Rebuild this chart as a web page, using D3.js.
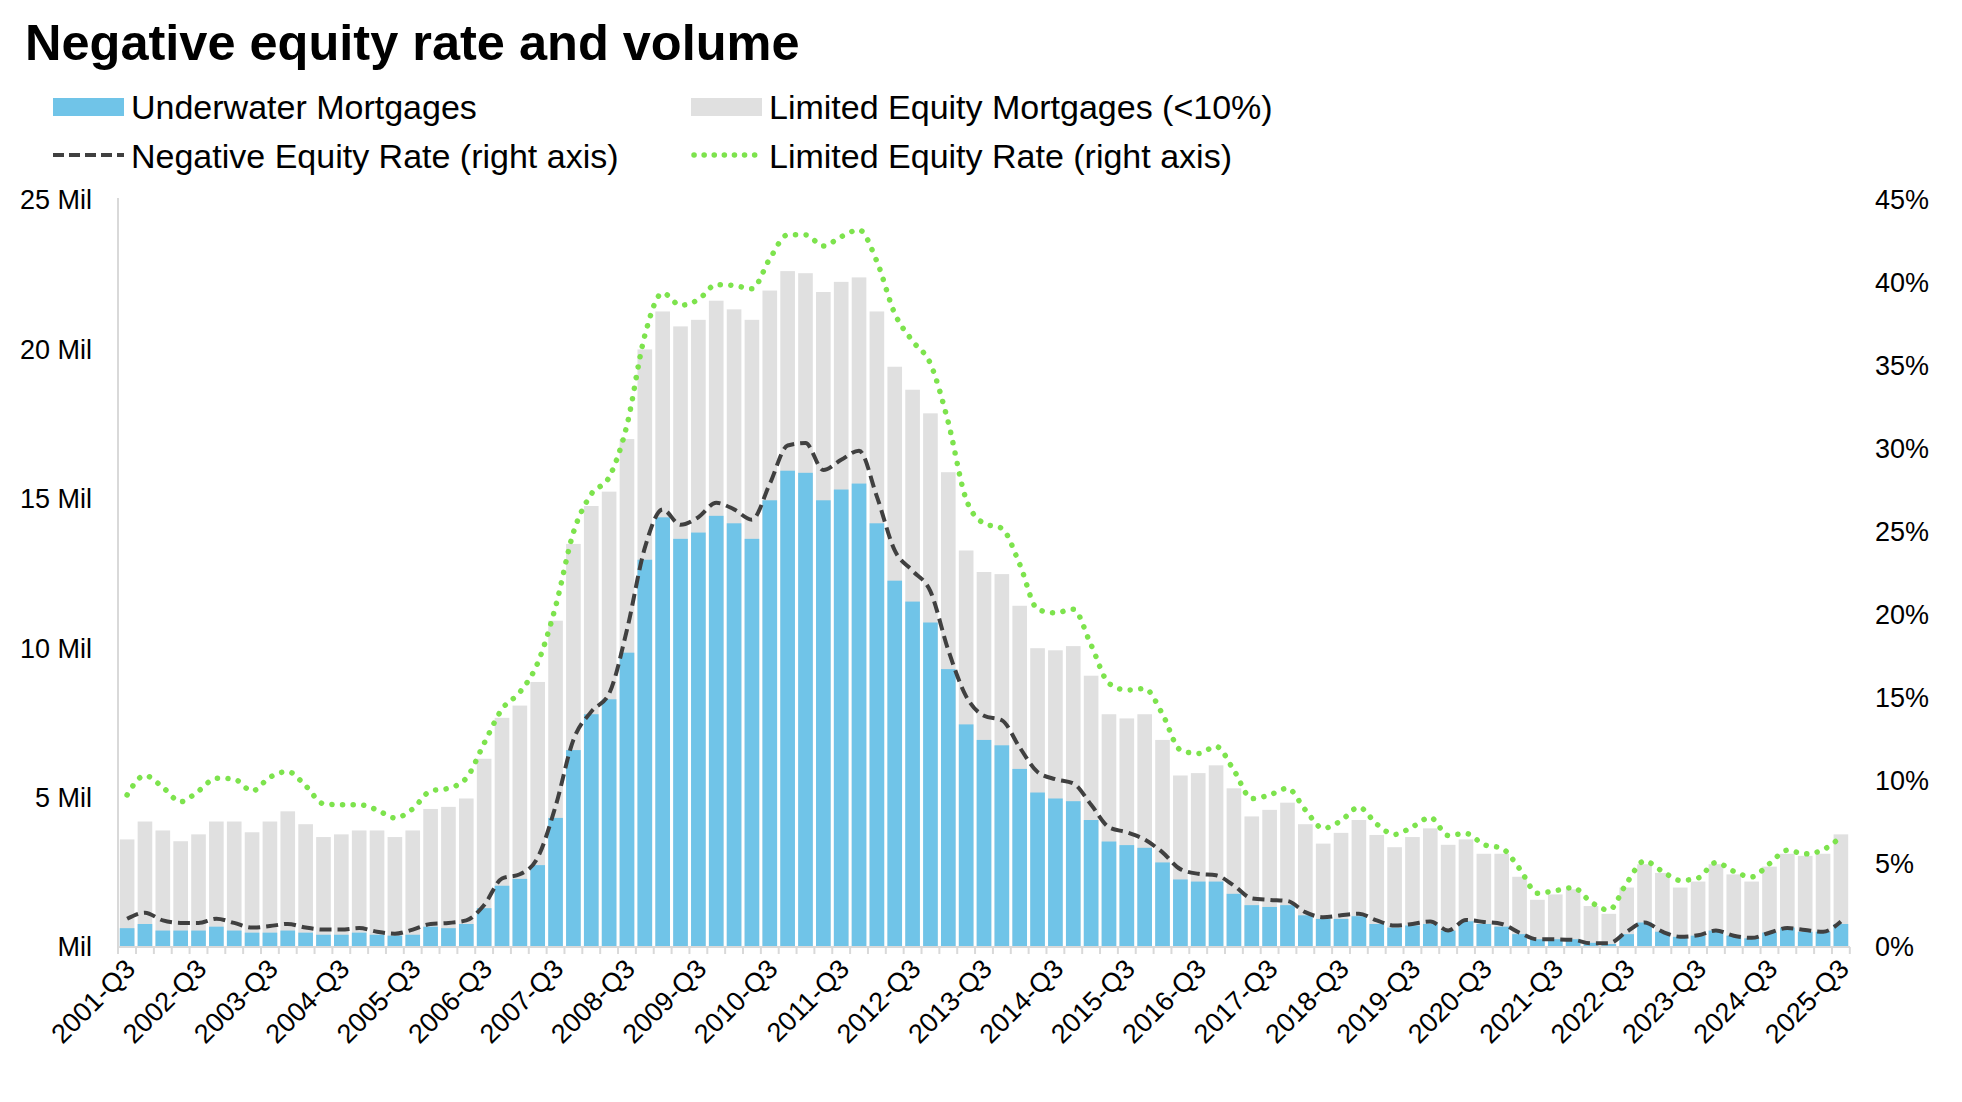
<!DOCTYPE html>
<html><head><meta charset="utf-8">
<script src="https://cdn.jsdelivr.net/npm/d3@7"></script>
<style>
body{margin:0;background:#fff}
text{font-family:"Liberation Sans",Arial,Helvetica,sans-serif;fill:#000}
</style>
</head><body>
<svg id="chart" width="1962" height="1102"></svg>
<script>
// ---- Data ----
const quarters = [];
for (let yr = 2001; yr <= 2025; yr++) {
  for (let q = 1; q <= 4; q++) {
    if ((yr === 2001 && q < 3) || (yr === 2025 && q > 3)) continue;
    quarters.push(yr + "-Q" + q);
  }
}
// Underwater mortgages (millions)
const underwater = [
  0.63,0.77,0.55,0.55,0.55,0.68,0.55,0.48,0.48,0.55,0.48,0.41,0.41,0.48,0.41,0.38,0.41,0.68,0.63,0.77,1.30,2.05,2.28,2.74,
  4.32,6.59,7.79,8.29,9.85,12.96,14.38,13.66,13.87,14.43,14.18,13.66,14.95,15.94,15.87,14.95,15.31,15.51,14.18,12.26,11.56,10.86,9.30,7.45,
  6.93,6.75,5.96,5.17,4.97,4.88,4.25,3.53,3.41,3.32,2.83,2.26,2.19,2.19,1.78,1.40,1.34,1.40,1.06,0.94,0.94,1.03,0.77,0.65,
  0.72,0.77,0.55,0.86,0.77,0.68,0.43,0.26,0.26,0.26,0.14,0.10,0.43,0.82,0.51,0.34,0.38,0.55,0.38,0.29,0.48,0.65,0.51,0.51,0.77
];
// Limited equity mortgages (<10%) (millions)
const limitedEquity = [
  3.60,4.20,3.90,3.54,3.77,4.20,4.20,3.84,4.20,4.54,4.11,3.68,3.77,3.90,3.90,3.68,3.90,4.62,4.69,4.97,6.30,7.67,8.08,8.87,
  10.92,13.49,14.76,15.24,17.00,20.00,21.27,20.77,20.99,21.63,21.34,20.99,21.97,22.62,22.55,21.92,22.26,22.41,21.27,19.42,18.65,17.86,15.89,13.27,
  12.55,12.48,11.42,10.00,9.93,10.07,9.08,7.79,7.65,7.79,6.93,5.74,5.82,6.08,5.31,4.37,4.59,4.83,4.11,3.46,3.82,4.25,3.75,3.34,
  3.68,3.97,3.42,3.60,3.12,3.12,2.35,1.58,1.76,1.93,1.37,1.11,1.99,2.77,2.48,1.99,2.19,2.77,2.43,2.19,2.69,3.12,3.05,3.12,3.77
];
// Negative equity rate (%)
const negativeRate = [
  1.70,2.07,1.60,1.45,1.45,1.70,1.45,1.17,1.26,1.39,1.17,1.05,1.05,1.14,0.92,0.80,1.05,1.39,1.45,1.60,2.53,4.13,4.38,5.39,
  8.48,12.48,14.18,15.26,19.11,24.04,26.36,25.43,25.89,26.76,26.36,25.74,27.90,30.21,30.36,28.73,29.35,29.90,27.13,23.89,22.66,21.42,17.88,15.10,
  13.93,13.66,12.02,10.54,10.11,9.86,8.57,7.21,6.91,6.47,5.70,4.69,4.41,4.32,3.70,2.93,2.84,2.77,2.10,1.79,1.91,2.00,1.60,1.29,
  1.39,1.54,0.99,1.63,1.51,1.39,0.86,0.46,0.46,0.43,0.22,0.22,0.92,1.48,0.92,0.62,0.71,0.99,0.68,0.55,0.86,1.14,1.02,0.92,1.54
];
// Limited equity rate (%)
const limitedRate = [
  9.16,10.33,9.62,8.75,9.40,10.17,10.11,9.40,10.23,10.57,9.71,8.63,8.57,8.57,8.26,7.77,8.32,9.40,9.56,10.17,12.27,14.33,15.35,17.11,
  20.5,24.97,27.28,28.3,31.44,36.84,39.4,38.66,39.0,39.9,39.85,39.65,41.46,42.9,42.9,42.23,42.79,43.2,41.3,38.16,36.5,35.14,31.6,26.97,
  25.52,25.22,23.06,20.35,20.13,20.35,18.19,15.88,15.48,15.57,14.03,11.87,11.65,12.08,10.64,8.94,9.16,9.56,8.26,7.15,7.61,8.42,7.40,6.78,
  7.24,7.80,6.72,6.84,6.17,5.95,4.72,3.24,3.39,3.58,2.71,2.22,3.85,5.18,4.56,4.01,4.16,5.09,4.56,4.22,5.02,5.83,5.61,5.86,6.63
];
const leftTicks = [0,5,10,15,20,25];
const leftTickLabels = ["Mil","5 Mil","10 Mil","15 Mil","20 Mil","25 Mil"];
const rightTicks = [0,5,10,15,20,25,30,35,40,45];
const xTickLabels = quarters.filter((q,i)=> i % 4 === 0);

const title = "Negative equity rate and volume";
const legendItems = [
  {label:"Underwater Mortgages", type:"rect", color:"#70c4e8"},
  {label:"Limited Equity Mortgages (<10%)", type:"rect", color:"#e0e0e0"},
  {label:"Negative Equity Rate (right axis)", type:"dash", color:"#404040"},
  {label:"Limited Equity Rate (right axis)", type:"dot", color:"#7de34d"}
];

// ---- Layout ----
const L = 118, R = 1850, T = 200, B = 947;
const svg = d3.select("#chart");

const x = d3.scaleBand().domain(quarters).range([L, R]).paddingInner(0.18).paddingOuter(0.1);
const yL = d3.scaleLinear().domain([0,25]).range([B, T]);
const yR = d3.scaleLinear().domain([0,45]).range([B, T]);

// Title
svg.append("text").attr("x",25).attr("y",60)
  .style("font-size","50.5px").style("font-weight","bold").text(title);

// Legend
const legPos = [[53,119],[691,119],[53,168],[691,168]];
legendItems.forEach((d,i)=>{
  const [lx,ly] = legPos[i];
  const g = svg.append("g");
  if (d.type === "rect") {
    g.append("rect").attr("x",lx).attr("y",ly-21).attr("width",71).attr("height",18).attr("fill",d.color);
  } else if (d.type === "dash") {
    g.append("line").attr("x1",lx).attr("x2",lx+71).attr("y1",ly-13).attr("y2",ly-13)
      .attr("stroke",d.color).attr("stroke-width",4).attr("stroke-dasharray","11,5");
  } else {
    g.append("line").attr("x1",lx+3).attr("x2",lx+71).attr("y1",ly-13).attr("y2",ly-13)
      .attr("stroke",d.color).attr("stroke-width",5.5).attr("stroke-linecap","round").attr("stroke-dasharray","0.1,10");
  }
  g.append("text").attr("x",lx+78).attr("y",ly).style("font-size","34px").text(d.label);
});

// Bars: limited equity (gray) behind, underwater (blue) in front
svg.append("g").selectAll("rect").data(quarters).join("rect")
  .attr("x", d=>x(d)).attr("width", x.bandwidth())
  .attr("y", (d,i)=>yL(limitedEquity[i])).attr("height",(d,i)=>B - yL(limitedEquity[i]))
  .attr("fill","#e0e0e0");
svg.append("g").selectAll("rect").data(quarters).join("rect")
  .attr("x", d=>x(d)).attr("width", x.bandwidth())
  .attr("y", (d,i)=>yL(underwater[i])).attr("height",(d,i)=>B - yL(underwater[i]))
  .attr("fill","#70c4e8");

// Axes lines
svg.append("line").attr("x1",L).attr("x2",L).attr("y1",T-2).attr("y2",B+7)
  .attr("stroke","#d9d9d9").attr("stroke-width",2);
svg.append("line").attr("x1",L).attr("x2",R).attr("y1",B).attr("y2",B)
  .attr("stroke","#d9d9d9").attr("stroke-width",2);
// category separator ticks
const step = x.step();
svg.append("g").selectAll("line").data(quarters).join("line")
  .attr("x1",(d)=>x(d) + x.bandwidth() + (step - x.bandwidth())/2)
  .attr("x2",(d)=>x(d) + x.bandwidth() + (step - x.bandwidth())/2)
  .attr("y1",B).attr("y2",B+7).attr("stroke","#d9d9d9").attr("stroke-width",2);

// Lines
const cx = d => x(d) + x.bandwidth()/2;
const rateLine = d3.line().x((d,i)=>cx(quarters[i])).y(d=>yR(d)).curve(d3.curveMonotoneX);
svg.append("path").datum(limitedRate).attr("d",rateLine).attr("fill","none")
  .attr("stroke","#7de34d").attr("stroke-width",5.5).attr("stroke-linecap","round").attr("stroke-dasharray","0.1,10.5");
svg.append("path").datum(negativeRate).attr("d",rateLine).attr("fill","none")
  .attr("stroke","#404040").attr("stroke-width",4).attr("stroke-dasharray","12,6");

// Left tick labels
svg.append("g").selectAll("text").data(leftTicks).join("text")
  .attr("x",92).attr("y",d=>yL(d)).attr("dy","0.35em").attr("text-anchor","end")
  .style("font-size","27px").text((d,i)=>leftTickLabels[i]);
// Right tick labels
svg.append("g").selectAll("text").data(rightTicks).join("text")
  .attr("x",1875).attr("y",d=>yR(d)).attr("dy","0.35em").attr("text-anchor","start")
  .style("font-size","27px").text(d=>d + "%");
// X tick labels
svg.append("g").selectAll("text").data(xTickLabels).join("text")
  .attr("transform",d=>`translate(${cx(d)+3},${B+17}) rotate(-45)`)
  .attr("text-anchor","end").attr("dy","0.35em")
  .style("font-size","27px").text(d=>d);
</script>
</body></html>
